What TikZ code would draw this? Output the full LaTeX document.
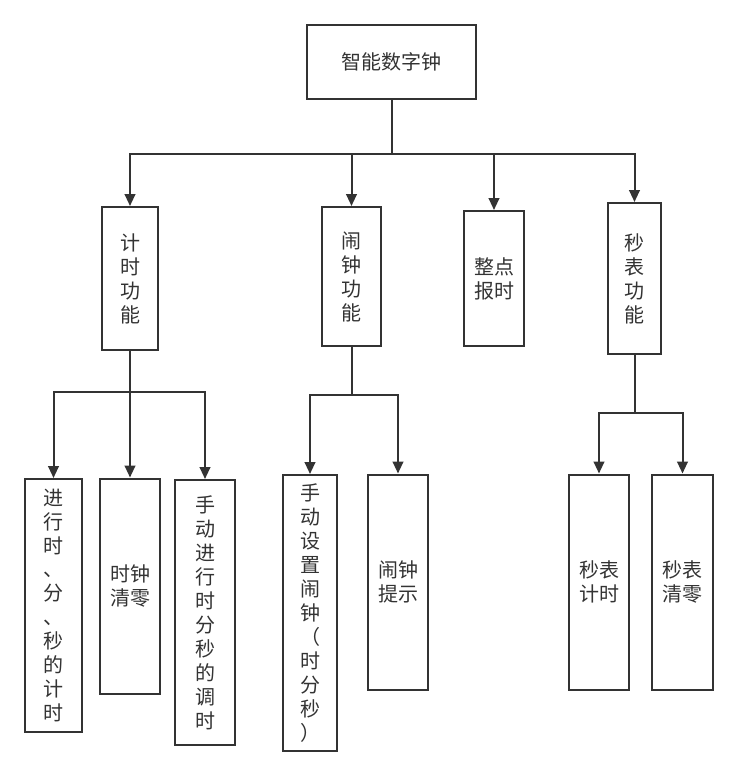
\documentclass[tikz,border=0pt]{standalone}
\usepackage{fontspec}
\setmainfont{Noto Sans CJK SC}
\usetikzlibrary{arrows.meta,positioning}
\definecolor{xiange}{HTML}{333333}
\tikzset{every picture/.style={line width=1.5pt}}
\tikzset{
  kuang/.style 2 args={draw=xiange, fill=white, text=xiange, inner sep=0pt, align=center,
    minimum width=#1*0.75pt, minimum height=#2*0.75pt, font=\fontsize{15pt}{18pt}\selectfont},
  jiantou/.style={draw=xiange, -{Triangle[length=9pt,width=8pt]}},
  xian/.style={draw=xiange},
}

\begin{document}
\begin{tikzpicture}[x=0.75pt, y=-0.75pt]
    \useasboundingbox (0,0) rectangle (737,776);

    % 顶层
    \node[kuang={169}{74}] (zhong) at (391.5,62) {智能数字钟};

    % 第二层
    \node[kuang={56}{143}] (jishi) at (130,278.5) {计\\时\\功\\能};
    \node[kuang={59}{139}] (naozhong) at (351.5,276.5) {闹\\钟\\功\\能};
    \node[kuang={60}{135}] (baoshi) at (494,278.5) {整点\\报时};
    \node[kuang={53}{151}] (miaobiao) at (634.5,278.5) {秒\\表\\功\\能};

    % 第三层：计时功能
    \node[kuang={57}{253}] (jishu) at (53.5,605.5) {进\\行\\时\\、\\分\\、\\秒\\的\\计\\时};
    \node[kuang={60}{215}] (qingling) at (130,586) {时钟\\清零};
    \node[kuang={60}{265}] (tiaoshi) at (205,612.5) {手\\动\\进\\行\\时\\分\\秒\\的\\调\\时};

    % 第三层：闹钟功能
    \node[kuang={54}{276}] (shezhi) at (310,613) {手\\动\\设\\置\\闹\\钟\\（\\时\\分\\秒\\）};
    \node[kuang={60}{215}] (tishi) at (398,582) {闹钟\\提示};

    % 第三层：秒表功能
    \node[kuang={60}{215}] (mbjishi) at (599,582) {秒表\\计时};
    \node[kuang={61}{215}] (mbqing) at (682.5,582) {秒表\\清零};

    % 连线
    \coordinate (zong) at (391.5,154);
    \draw[xian] (zhong.south) -- (zong);
    \foreach \z in {jishi,naozhong,baoshi,miaobiao}
        \draw[jiantou] (zong) -| (\z.north);

    \coordinate (fen1) at (130,392);
    \draw[xian] (jishi.south) -- (fen1);
    \foreach \z in {jishu,qingling,tiaoshi}
        \draw[jiantou] (fen1) -| (\z.north);

    \coordinate (fen2) at (351.5,395);
    \draw[xian] (naozhong.south) -- (fen2);
    \foreach \z in {shezhi,tishi}
        \draw[jiantou] (fen2) -| (\z.north);

    \coordinate (fen3) at (634.5,413);
    \draw[xian] (miaobiao.south) -- (fen3);
    \foreach \z in {mbjishi,mbqing}
        \draw[jiantou] (fen3) -| (\z.north);
\end{tikzpicture}
\end{document}
